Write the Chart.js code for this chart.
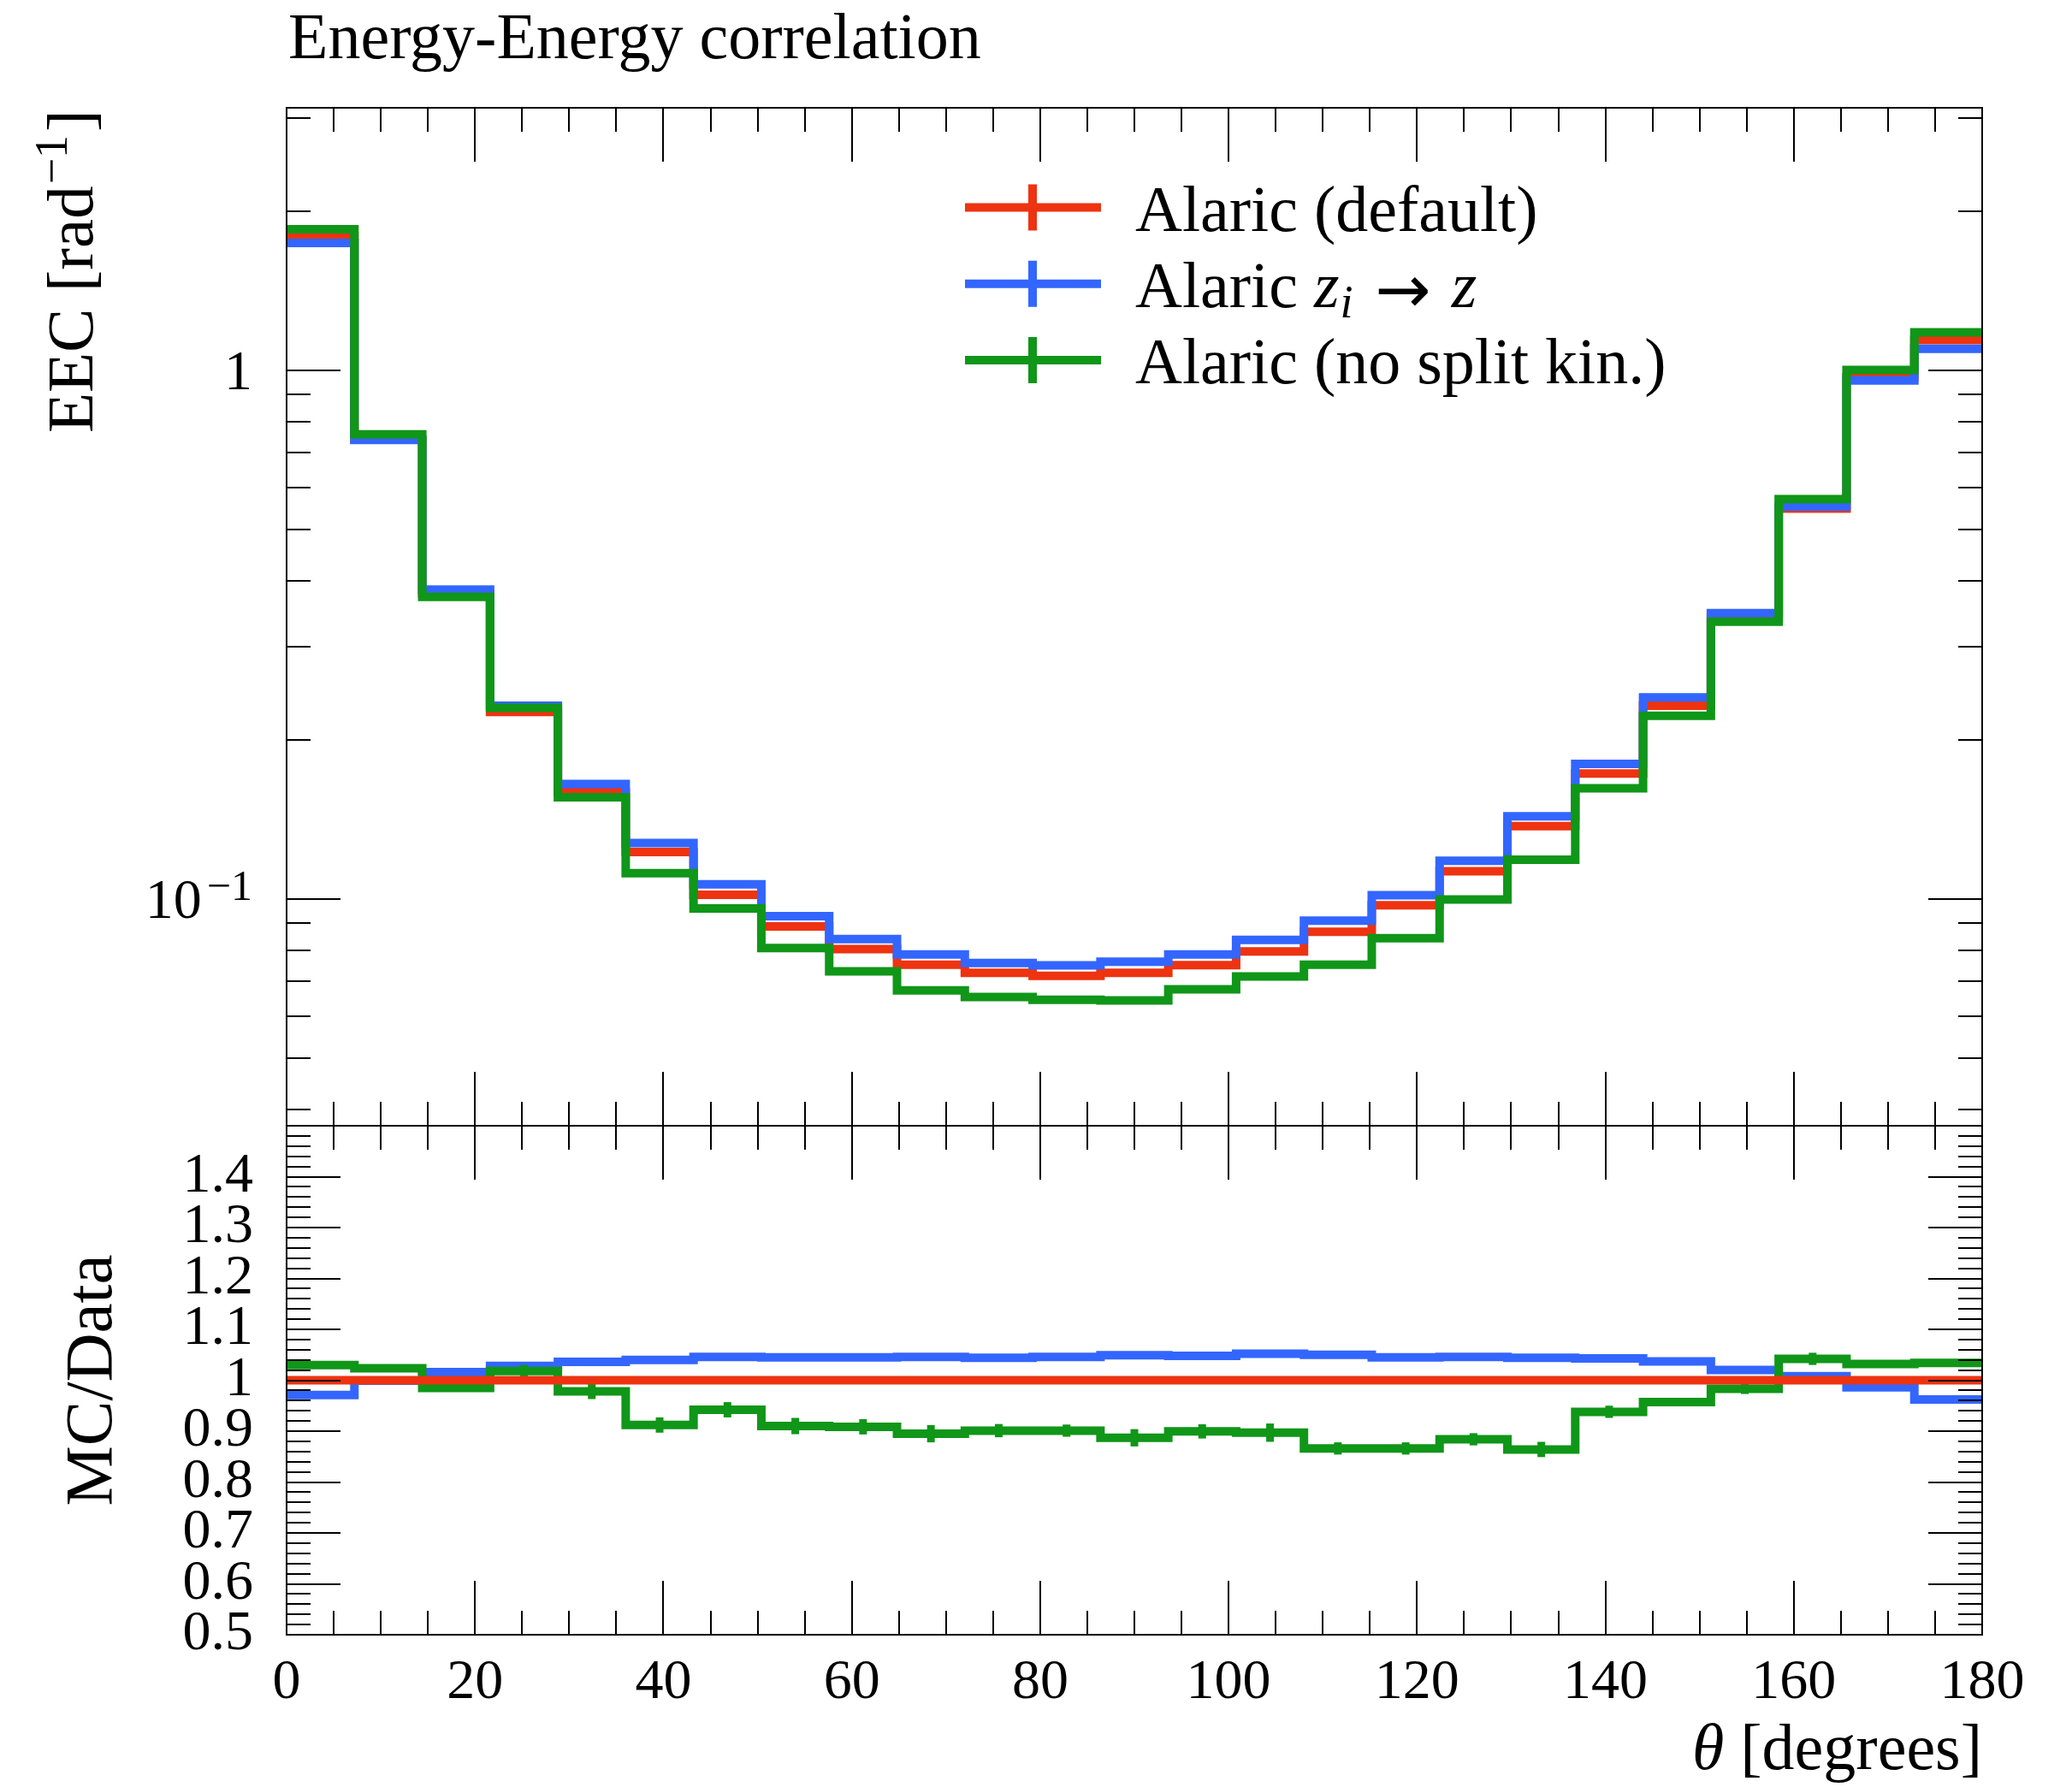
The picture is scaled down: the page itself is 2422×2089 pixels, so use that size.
<!DOCTYPE html>
<html>
<head>
<meta charset="utf-8">
<script src="https://cdn.jsdelivr.net/npm/chart.js@4.4.1/dist/chart.umd.min.js"></script>
<style>
html,body{margin:0;padding:0;background:#ffffff;}
canvas{display:block;}
</style>
</head>
<body>
<canvas id="c" width="2422" height="2089"></canvas>
<script>
// ---------------- data ----------------
const binEdges = [0, 7.2, 14.4, 21.6, 28.8, 36, 43.2, 50.4, 57.6, 64.8, 72, 79.2, 86.4, 93.6,
  100.8, 108, 115.2, 122.4, 129.6, 136.8, 144, 151.2, 158.4, 165.6, 172.8, 180];

const eecDefault = [1.795, 0.7395, 0.3787, 0.2259, 0.1593, 0.1227, 0.1019, 0.0888, 0.0804, 0.0751,
  0.0725, 0.0716, 0.0725, 0.0750, 0.0796, 0.0867, 0.0973, 0.1129, 0.1374, 0.1727,
  0.2321, 0.3406, 0.548, 0.9705, 1.142];
const eecZi = [1.743, 0.739, 0.3848, 0.2322, 0.1650, 0.1276, 0.1066, 0.0928, 0.0840, 0.0786,
  0.0757, 0.0749, 0.0761, 0.0786, 0.0837, 0.0910, 0.1017, 0.1181, 0.1434, 0.1801,
  0.2407, 0.3474, 0.5524, 0.9569, 1.0986];
const eecNoSplit = [1.849, 0.757, 0.373, 0.2300, 0.1558, 0.1119, 0.0960, 0.0808, 0.0730, 0.0672,
  0.0653, 0.0645, 0.0643, 0.0675, 0.0714, 0.0751, 0.0843, 0.0998, 0.1187, 0.1620,
  0.2221, 0.3348, 0.5710, 1.0016, 1.1808];

const ratioDefault = [1, 1, 1, 1, 1, 1, 1, 1, 1, 1, 1, 1, 1, 1, 1, 1, 1, 1, 1, 1, 1, 1, 1, 1, 1];
const ratioZi = [0.971, 0.999, 1.016, 1.028, 1.036, 1.040, 1.046, 1.045, 1.045, 1.046,
  1.044, 1.046, 1.049, 1.048, 1.052, 1.050, 1.045, 1.046, 1.044, 1.043,
  1.037, 1.020, 1.008, 0.986, 0.962];
const ratioNoSplit = [1.030, 1.0235, 0.985, 1.018, 0.978, 0.912, 0.942, 0.910, 0.9085, 0.895,
  0.901, 0.901, 0.887, 0.8995, 0.897, 0.866, 0.866, 0.884, 0.864, 0.938,
  0.957, 0.983, 1.042, 1.032, 1.034];
const ratioNoSplitErr = [0.006, 0.006, 0.006, 0.012, 0.015, 0.015, 0.015, 0.016, 0.015, 0.017,
  0.013, 0.012, 0.017, 0.014, 0.018, 0.012, 0.012, 0.012, 0.015, 0.012,
  0.008, 0.010, 0.012, 0.006, 0.006];

const seriesNames = ['Alaric (default)', 'Alaric z_i \u2192 z', 'Alaric (no split kin.)'];
const seriesColors = ['#EE3311', '#3366FF', '#109618'];

const xTickValues = [0, 20, 40, 60, 80, 100, 120, 140, 160, 180];
const xTickLabels = ['0', '20', '40', '60', '80', '100', '120', '140', '160', '180'];
const logTickValues = [0.1, 1];
const logTickBase = ['10', '1'];
const logTickExp = ['\u22121', ''];
const ratioTickValues = [0.5, 0.6, 0.7, 0.8, 0.9, 1.0, 1.1, 1.2, 1.3, 1.4];
const ratioTickLabels = ['0.5', '0.6', '0.7', '0.8', '0.9', '1', '1.1', '1.2', '1.3', '1.4'];

const titleText = 'Energy-Energy correlation';
const yTopTitle = ['EEC [rad', '\u22121', ']'];
const yRatioTitle = 'MC/Data';
const xTitle = ['\u03B8', ' [degrees]'];

// ---------------- helpers ----------------
const FONT = '"Liberation Serif", "Times New Roman", serif';
function steps(vals) {
  return binEdges.map((x, i) => ({ x: x, y: vals[Math.min(i, vals.length - 1)] }));
}
function labelFrom(values, labels, v) {
  for (let i = 0; i < values.length; i++) {
    if (Math.abs(values[i] - v) < 1e-9 * Math.max(1, Math.abs(v))) return labels[i];
  }
  return '';
}
function histDataset(label, color, vals, axis, order, extra) {
  return Object.assign({
    label: label, data: steps(vals), xAxisID: 'x', yAxisID: axis,
    borderColor: color, backgroundColor: color, borderWidth: 10,
    stepped: 'before', pointRadius: 0, pointHoverRadius: 0, fill: false,
    borderJoinStyle: 'miter', borderCapStyle: 'butt', order: order, clip: false
  }, extra || {});
}

// ---------------- plugins ----------------
const framePlugin = {
  id: 'frame',
  afterDatasetDraw(chart, args) {
    const ds = chart.data.datasets[args.index];
    if (!ds.errorBars) return;
    const ctx = chart.ctx;
    const xs = chart.scales.x, ys = chart.scales[ds.yAxisID];
    const vals = ds.values;
    ctx.save();
    ctx.strokeStyle = ds.borderColor;
    ctx.lineWidth = 9;
    ctx.lineCap = 'butt';
    for (let i = 0; i < vals.length; i++) {
      const xc = xs.getPixelForValue((binEdges[i] + binEdges[i + 1]) / 2);
      ctx.beginPath();
      ctx.moveTo(xc, ys.getPixelForValue(vals[i] - ds.errorBars[i]));
      ctx.lineTo(xc, ys.getPixelForValue(vals[i] + ds.errorBars[i]));
      ctx.stroke();
    }
    ctx.restore();
  },
  afterDraw(chart) {
    const ctx = chart.ctx;
    const xs = chart.scales.x, yT = chart.scales.yTop, yR = chart.scales.yRatio;
    const L = xs.getPixelForValue(0), R = xs.getPixelForValue(180);
    const T = yT.top, M = yT.bottom, B = yR.bottom;
    const MAJ = 63, MIN = 28;
    ctx.save();
    ctx.strokeStyle = '#000';
    ctx.lineWidth = 2;
    ctx.lineCap = 'butt';
    ctx.beginPath();
    ctx.rect(L, T, R - L, B - T);
    ctx.moveTo(L, M); ctx.lineTo(R, M);
    ctx.stroke();

    ctx.beginPath();
    // x ticks
    for (let v = 5; v < 180; v += 5) {
      const px = Math.round(xs.getPixelForValue(v));
      const len = (v % 20 === 0) ? MAJ : MIN;
      ctx.moveTo(px, T); ctx.lineTo(px, T + len);
      ctx.moveTo(px, M - len); ctx.lineTo(px, M + len);
      ctx.moveTo(px, B); ctx.lineTo(px, B - len);
    }
    // log y ticks
    for (let dec = -2; dec <= 0; dec++) {
      for (let m = 1; m <= 9; m++) {
        const v = m * Math.pow(10, dec);
        if (v <= yT.min || v >= yT.max) continue;
        const py = Math.round(yT.getPixelForValue(v));
        const len = (m === 1) ? MAJ : MIN;
        ctx.moveTo(L, py); ctx.lineTo(L + len, py);
        ctx.moveTo(R, py); ctx.lineTo(R - len, py);
      }
    }
    // ratio ticks
    for (let k = 26; k < 75; k++) {
      const v = k * 0.02;
      const py = Math.round(yR.getPixelForValue(v));
      const len = (k % 5 === 0) ? MAJ : MIN;
      ctx.moveTo(L, py); ctx.lineTo(L + len, py);
      ctx.moveTo(R, py); ctx.lineTo(R - len, py);
    }
    ctx.stroke();

    // ---- texts ----
    ctx.fillStyle = '#000';
    ctx.textBaseline = 'alphabetic';

    // log-axis tick labels (base + superscript exponent)
    for (let i = 0; i < logTickValues.length; i++) {
      const py = yT.getPixelForValue(logTickValues[i]);
      let xr = L - 40;
      ctx.textAlign = 'right';
      if (logTickExp[i]) {
        ctx.font = '50px ' + FONT;
        ctx.fillText(logTickExp[i], xr, py + 1);
        xr -= ctx.measureText(logTickExp[i]).width + 6;
      }
      ctx.font = '66px ' + FONT;
      ctx.fillText(logTickBase[i], xr, py + 22);
    }

    // title
    ctx.textAlign = 'left';
    ctx.font = '76px ' + FONT;
    ctx.fillText(titleText, L + 2, T - 58);

    // y title (top panel)
    ctx.save();
    ctx.translate(L - 227, T + 380);
    ctx.rotate(-Math.PI / 2);
    ctx.font = '77px ' + FONT;
    let cx = 0;
    ctx.fillText(yTopTitle[0], cx, 0); cx += ctx.measureText(yTopTitle[0]).width + 2;
    ctx.font = '54px ' + FONT;
    ctx.fillText(yTopTitle[1], cx, -30); cx += ctx.measureText(yTopTitle[1]).width + 4;
    ctx.font = '77px ' + FONT;
    ctx.fillText(yTopTitle[2], cx, 0);
    ctx.restore();

    // y title (ratio panel)
    ctx.save();
    ctx.translate(L - 205, (M + B) / 2);
    ctx.rotate(-Math.PI / 2);
    ctx.font = '79px ' + FONT;
    ctx.textAlign = 'center';
    ctx.fillText(yRatioTitle, 0, 0);
    ctx.restore();

    // x title
    ctx.font = '76px ' + FONT;
    const w2 = ctx.measureText(xTitle[1]).width;
    ctx.textAlign = 'left';
    ctx.fillText(xTitle[1], R - w2, B + 157);
    ctx.font = 'italic 76px ' + FONT;
    const w1 = ctx.measureText(xTitle[0]).width;
    ctx.fillText(xTitle[0], R - w2 - w1, B + 157);

    // legend
    const rows = [T + 116.5, T + 205.7, T + 295];
    const lx0 = L + 793, lx1 = L + 952, lxc = L + 872, tx = L + 992;
    for (let i = 0; i < 3; i++) {
      const y = rows[i];
      ctx.strokeStyle = seriesColors[i];
      ctx.lineWidth = 10;
      ctx.beginPath();
      ctx.moveTo(lx0, y); ctx.lineTo(lx1, y);
      ctx.moveTo(lxc, y - 27); ctx.lineTo(lxc, y + 27);
      ctx.stroke();
      ctx.fillStyle = '#000';
      const by = y + 27;
      if (i === 1) {
        let x = tx;
        ctx.font = '76px ' + FONT;
        ctx.fillText('Alaric ', x, by); x += ctx.measureText('Alaric ').width;
        ctx.font = 'italic 76px ' + FONT;
        ctx.fillText('z', x, by); x += ctx.measureText('z').width + 1;
        ctx.font = 'italic 54px ' + FONT;
        ctx.fillText('i', x, by + 12); x += ctx.measureText('i').width + 26;
        ctx.font = '78px "DejaVu Sans", sans-serif';
        ctx.fillText('\u2192', x, by + 6); x += ctx.measureText('\u2192').width + 24;
        ctx.font = 'italic 76px ' + FONT;
        ctx.fillText('z', x, by);
      } else {
        ctx.font = '76px ' + FONT;
        ctx.fillText(seriesNames[i], tx, by);
      }
    }
    ctx.restore();
  }
};

// ---------------- chart ----------------
const tickFont = { family: FONT, size: 66, lineHeight: 1.2 };

new Chart(document.getElementById('c'), {
  type: 'line',
  data: {
    datasets: [
      histDataset(seriesNames[0], seriesColors[0], eecDefault, 'yTop', 5),
      histDataset(seriesNames[1], seriesColors[1], eecZi, 'yTop', 4),
      histDataset(seriesNames[2], seriesColors[2], eecNoSplit, 'yTop', 3),
      histDataset(seriesNames[0], seriesColors[0], ratioDefault, 'yRatio', 0),
      histDataset(seriesNames[1], seriesColors[1], ratioZi, 'yRatio', 2),
      histDataset(seriesNames[2], seriesColors[2], ratioNoSplit, 'yRatio', 1,
        { errorBars: ratioNoSplitErr, values: ratioNoSplit })
    ]
  },
  options: {
    responsive: false,
    animation: false,
    devicePixelRatio: 1,
    layout: { padding: { left: 0, right: 105, top: 126, bottom: 0 } },
    plugins: { legend: { display: false }, tooltip: { enabled: false }, title: { display: false } },
    scales: {
      x: {
        type: 'linear', position: 'bottom', min: 0, max: 180,
        grid: { display: false, drawTicks: false }, border: { display: false },
        afterBuildTicks: (s) => { s.ticks = xTickValues.map(v => ({ value: v })); },
        afterFit: (s) => { s.height = 178; },
        ticks: {
          autoSkip: false, maxRotation: 0, padding: 17, color: '#000', font: tickFont,
          callback: (v) => labelFrom(xTickValues, xTickLabels, v)
        }
      },
      yTop: {
        type: 'logarithmic', position: 'left', stack: 'panels', stackWeight: 2, weight: 1,
        min: Math.pow(10, -1.4288), max: Math.pow(10, 0.4968),
        grid: { display: false, drawTicks: false }, border: { display: false },
        afterBuildTicks: (s) => { s.ticks = logTickValues.map(v => ({ value: v })); },
        afterFit: (s) => { s.width = 335; },
        ticks: { display: false, autoSkip: false, font: tickFont }
      },
      yRatio: {
        type: 'linear', position: 'left', stack: 'panels', stackWeight: 1, weight: 0,
        min: 0.5, max: 1.5,
        grid: { display: false, drawTicks: false }, border: { display: false },
        afterBuildTicks: (s) => { s.ticks = ratioTickValues.map(v => ({ value: v })); },
        afterFit: (s) => { s.width = 335; },
        ticks: {
          autoSkip: false, padding: 39, color: '#000', font: tickFont,
          callback: (v) => labelFrom(ratioTickValues, ratioTickLabels, v)
        }
      }
    }
  },
  plugins: [framePlugin]
});
</script>
</body>
</html>
